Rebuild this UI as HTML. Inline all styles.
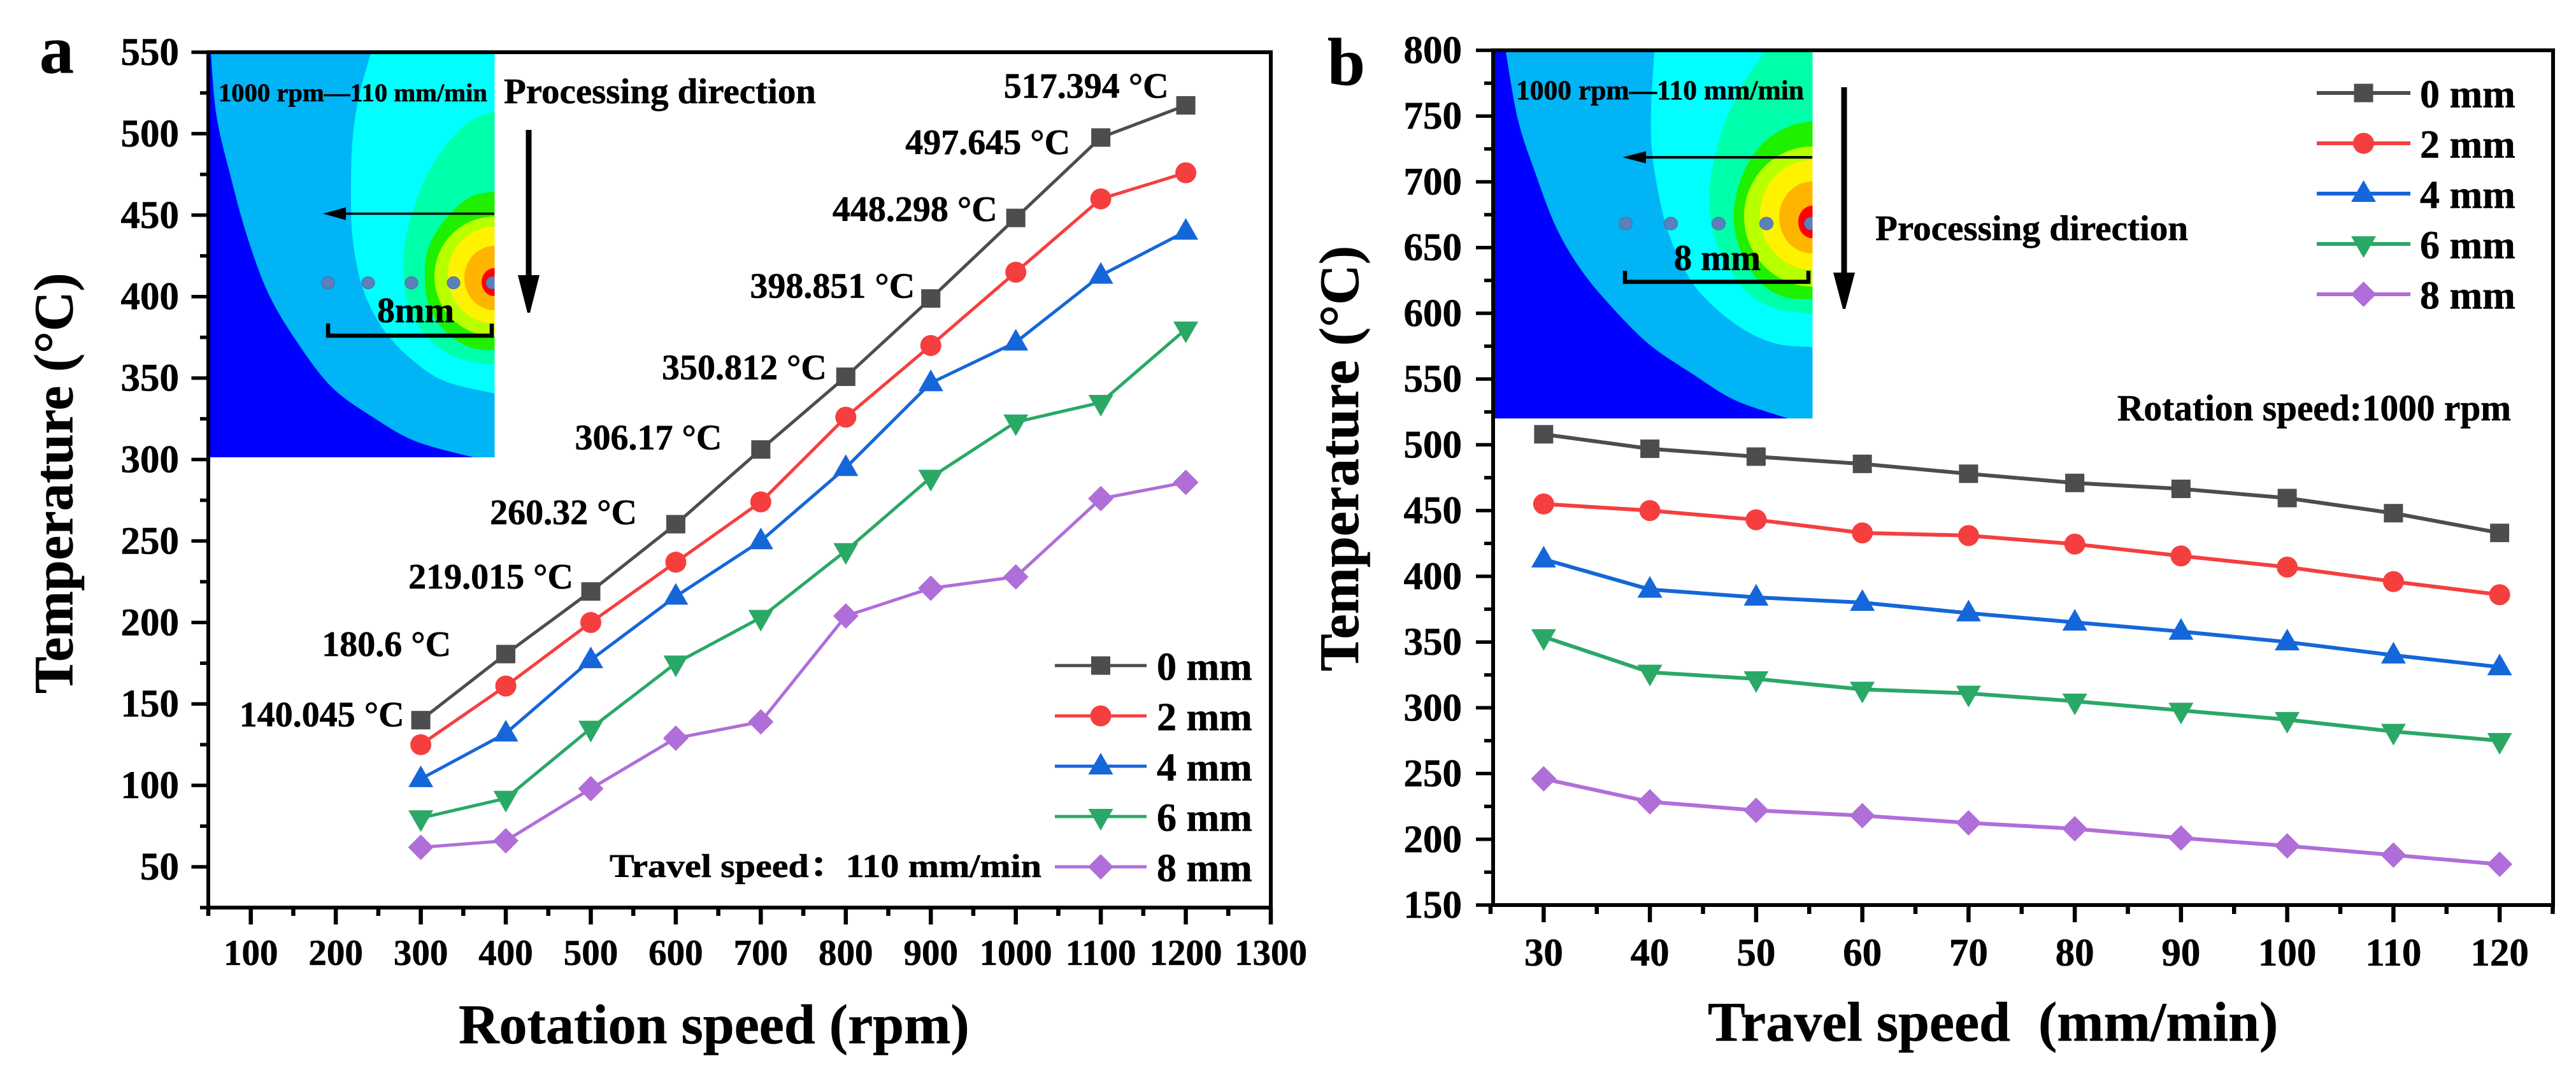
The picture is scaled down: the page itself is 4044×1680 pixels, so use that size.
<!DOCTYPE html>
<html lang="en">
<head>
<meta charset="utf-8">
<title>Temperature vs rotation speed and travel speed</title>
<style>
html,body{margin:0;padding:0;background:#fff}
svg{display:block;font-family:"Liberation Serif","DejaVu Serif",serif;font-weight:bold}
svg text{stroke:#000;stroke-width:0.6px}
</style>
</head>
<body>
<svg id="figure" xmlns="http://www.w3.org/2000/svg" width="4044" height="1680" viewBox="0 0 4044 1680">
  <rect width="4044" height="1680" fill="#fff"/>
  <defs>
    <clipPath id="clipA"><rect x="327" y="84" width="449.500" height="634"/></clipPath>
    <clipPath id="clipB"><rect x="2344" y="82" width="501.500" height="575"/></clipPath>
  </defs>
  <g id="insetA" clip-path="url(#clipA)"></g>
  <g id="insetB" clip-path="url(#clipB)"></g>
  <g id="plotA"></g>
  <g id="plotB"></g>

  <!-- panel a static text -->
  <text x="62" y="114" font-size="108">a</text>
  <text transform="translate(113.500 1089) rotate(-90)" font-size="87">Temperature (°C)</text>
  <text x="720" y="1638" font-size="88">Rotation speed (rpm)</text>
  <text x="343" y="159" font-size="40.500" textLength="422" lengthAdjust="spacingAndGlyphs">1000 rpm—110 mm/min</text>
  <text x="592" y="506" font-size="56" textLength="121" lengthAdjust="spacingAndGlyphs">8mm</text>
  <text x="791" y="162" font-size="56" textLength="490" lengthAdjust="spacingAndGlyphs">Processing direction</text>
  <text x="957" y="1377" font-size="52" textLength="678" lengthAdjust="spacingAndGlyphs" style="font-family:'Liberation Serif','Noto Serif CJK SC',serif">Travel speed：110 mm/min</text>

  <!-- panel a inset annotations -->
  <g fill="none" stroke="#000" stroke-width="6.500">
    <path d="M515 508V527H772V508"/>
  </g>
  <g>
    <path d="M776 335.500H535" stroke="#000" stroke-width="3.500" fill="none"/>
    <path d="M507 335.500L543 325.500V345.500Z" fill="#000"/>
  </g>
  <g>
    <path d="M830 204V440" stroke="#000" stroke-width="9" fill="none"/>
    <path d="M813 432H847L832 491H828Z" fill="#000"/>
  </g>

  <!-- panel b static text -->
  <text x="2084" y="133" font-size="106">b</text>
  <text transform="translate(2132 1054) rotate(-90)" font-size="88">Temperature (°C)</text>
  <text x="2681" y="1634" font-size="88" xml:space="preserve" style="white-space:pre">Travel speed  (mm/min)</text>
  <text x="2380" y="156" font-size="43" textLength="452" lengthAdjust="spacingAndGlyphs">1000 rpm—110 mm/min</text>
  <text x="2628" y="424" font-size="57" textLength="136" lengthAdjust="spacingAndGlyphs">8 mm</text>
  <text x="2944" y="377" font-size="56" textLength="491" lengthAdjust="spacingAndGlyphs">Processing direction</text>
  <text x="3324" y="660" font-size="58" textLength="618" lengthAdjust="spacingAndGlyphs">Rotation speed:1000 rpm</text>

  <g fill="none" stroke="#000" stroke-width="6.500">
    <path d="M2551 425V442.500H2839V425"/>
  </g>
  <g>
    <path d="M2845 247H2570" stroke="#000" stroke-width="4" fill="none"/>
    <path d="M2547 247L2584 237.500V256.500Z" fill="#000"/>
  </g>
  <g>
    <path d="M2895 137V436" stroke="#000" stroke-width="9" fill="none"/>
    <path d="M2878 428H2912L2897 485H2893Z" fill="#000"/>
  </g>
</svg>

<script>
// ---------- Panel a data ----------
const rotationSpeeds = [300, 400, 500, 600, 700, 800, 900, 1000, 1100, 1200];
const rotation0mm = [140.045, 180.6, 219.015, 260.32, 306.17, 350.812, 398.851, 448.298, 497.645, 517.394];
const rotation2mm = [125, 161, 200, 237, 274, 326, 370, 415, 460, 476];
const rotation4mm = [104, 132, 177, 216, 250, 295, 347, 372, 413, 440];
const rotation6mm = [80, 92, 135, 175, 203, 244, 289, 323, 335, 380];
const rotation8mm = [62, 66, 98, 129, 139, 204, 221, 228, 276, 286];
const rotationXTicks = [100, 200, 300, 400, 500, 600, 700, 800, 900, 1000, 1100, 1200, 1300];
const rotationYTicks = [50, 100, 150, 200, 250, 300, 350, 400, 450, 500, 550];
const peakLabels = ['140.045 °C', '180.6 °C', '219.015 °C', '260.32 °C', '306.17 °C', '350.812 °C', '398.851 °C', '448.298 °C', '497.645 °C', '517.394 °C'];

// ---------- Panel b data ----------
const travelSpeeds = [30, 40, 50, 60, 70, 80, 90, 100, 110, 120];
const travel0mm = [508, 497, 491, 485.5, 478, 471, 466.5, 459.5, 448, 433];
const travel2mm = [455, 450, 443, 433, 431, 424.5, 415.5, 407, 396, 386];
const travel4mm = [413, 390, 384, 380, 372, 365, 358, 350, 340, 331];
const travel6mm = [354, 327, 322, 314, 311, 305, 298, 291, 282, 275];
const travel8mm = [246, 228.5, 222, 218, 212.5, 208, 201, 195, 188, 181];
const travelXTicks = [30, 40, 50, 60, 70, 80, 90, 100, 110, 120];
const travelYTicks = [150, 200, 250, 300, 350, 400, 450, 500, 550, 600, 650, 700, 750, 800];

const seriesNames = ['0 mm', '2 mm', '4 mm', '6 mm', '8 mm'];

const NS = 'http://www.w3.org/2000/svg';
const seriesColors = ['#4d4d4d', '#f53f3f', '#1566d9', '#2aa866', '#b06ed8'];
const seriesShapes = ['square', 'circle', 'up', 'down', 'diamond'];

function make(parent, tag, name, attrs) {
  const el = document.createElementNS(NS, tag);
  
  
  for (const k in attrs) el.setAttribute(k, attrs[k]);
  parent.appendChild(el);
  return el;
}

function marker(parent, name, shape, cx, cy, color) {
  if (shape === 'square') {
    make(parent, 'rect', name, {x: cx - 15, y: cy - 14.5, width: 30, height: 29, fill: color});
  } else if (shape === 'circle') {
    make(parent, 'circle', name, {cx: cx, cy: cy, r: 16.5, fill: color});
  } else {
    let d;
    if (shape === 'up') d = `M${cx} ${cy - 21}L${cx + 19.5} ${cy + 13}H${cx - 19.5}Z`;
    if (shape === 'down') d = `M${cx} ${cy + 22}L${cx + 19.5} ${cy - 12}H${cx - 19.5}Z`;
    if (shape === 'diamond') d = `M${cx} ${cy - 20}L${cx + 20} ${cy}L${cx} ${cy + 20}L${cx - 20} ${cy}Z`;
    make(parent, 'path', name, {d: d, fill: color});
  }
}

function drawPanel(cfg) {
  const root = document.getElementById(cfg.id);
  const x = v => cfg.x0 + (v - cfg.xMin) * (cfg.x1 - cfg.x0) / (cfg.xMax - cfg.xMin);
  const y = v => cfg.y0 + (v - cfg.yMin) * (cfg.y1 - cfg.y0) / (cfg.yMax - cfg.yMin);

  // frame
  make(root, 'rect', 'plot-frame-' + cfg.tag, {
    x: cfg.frameL, y: y(cfg.yMax), width: cfg.frameR - cfg.frameL, height: y(cfg.yMin) - y(cfg.yMax),
    fill: 'none', stroke: '#000', 'stroke-width': 6
  });

  // y ticks
  const yStep = cfg.yTicks[1] - cfg.yTicks[0];
  cfg.yTicks.forEach(v => {
    make(root, 'line', 'y-tick-' + cfg.tag + '-' + v, {
      x1: cfg.frameL - cfg.majorLen, x2: cfg.frameL, y1: y(v), y2: y(v), stroke: '#000', 'stroke-width': 5.5
    });
    const t = make(root, 'text', 'y-tick-label-' + cfg.tag + '-' + v, {
      x: cfg.yLabelX, y: y(v) + 20, 'font-size': 61, 'text-anchor': 'end'
    });
    t.textContent = v;
    const m = v + yStep / 2;
    if (m < cfg.yMax) {
      make(root, 'line', 'y-minor-tick-' + cfg.tag + '-' + m, {
        x1: cfg.frameL - cfg.minorLen, x2: cfg.frameL, y1: y(m), y2: y(m), stroke: '#000', 'stroke-width': 5.5
      });
    }
    const below = v - yStep / 2;
    if (below >= cfg.yMin && v === cfg.yTicks[0]) {
      make(root, 'line', 'y-minor-tick-' + cfg.tag + '-' + below, {
        x1: cfg.frameL - cfg.minorLen, x2: cfg.frameL, y1: y(below), y2: y(below), stroke: '#000', 'stroke-width': 5.5
      });
    }
  });

  // x ticks
  const xStep = cfg.xTicks[1] - cfg.xTicks[0];
  const base = y(cfg.yMin);
  cfg.xTicks.forEach(v => {
    make(root, 'line', 'x-tick-' + cfg.tag + '-' + v, {
      x1: x(v), x2: x(v), y1: base, y2: base + cfg.majorLen, stroke: '#000', 'stroke-width': 6.5
    });
    const t = make(root, 'text', 'x-tick-label-' + cfg.tag + '-' + v, {
      x: x(v), y: cfg.xLabelY, 'font-size': cfg.xLabelSize, 'text-anchor': 'middle'
    });
    t.textContent = v;
    const m = v - xStep / 2;
    make(root, 'line', 'x-minor-tick-' + cfg.tag + '-' + m, {
      x1: x(m), x2: x(m), y1: base, y2: base + cfg.minorLen, stroke: '#000', 'stroke-width': 6.5
    });
  });
  const last = cfg.xTicks[cfg.xTicks.length - 1] + xStep / 2;
  if (last <= cfg.xMax) {
    make(root, 'line', 'x-minor-tick-' + cfg.tag + '-' + last, {
      x1: x(last), x2: x(last), y1: base, y2: base + cfg.minorLen, stroke: '#000', 'stroke-width': 6.5
    });
  }

  // series
  cfg.series.forEach((vals, i) => {
    const g = make(root, 'g', 'series-' + cfg.tag + '-' + seriesNames[i].replace(' ', ''), {});
    const pts = vals.map((v, j) => x(cfg.cats[j]) + ',' + y(v)).join(' ');
    make(g, 'polyline', 'series-line', {
      points: pts, fill: 'none', stroke: seriesColors[i], 'stroke-width': cfg.lineW
    });
    vals.forEach((v, j) => {
      marker(g, 'series-point', seriesShapes[i], x(cfg.cats[j]), y(v), seriesColors[i]);
    });
  });

  // legend
  seriesNames.forEach((n, i) => {
    const g = make(root, 'g', 'legend-entry-' + cfg.tag + '-' + n.replace(' ', ''), {});
    const ly = cfg.legendY + i * cfg.legendStep;
    make(g, 'line', 'legend-line', {
      x1: cfg.legendX0, x2: cfg.legendX1, y1: ly, y2: ly, stroke: seriesColors[i], 'stroke-width': cfg.lineW
    });
    marker(g, 'legend-marker', seriesShapes[i], (cfg.legendX0 + cfg.legendX1) / 2, ly, seriesColors[i]);
    const t = make(g, 'text', 'legend-label', {x: cfg.legendTextX, y: ly + 22.5, 'font-size': 62});
    t.textContent = n;
  });
}

drawPanel({
  id: 'plotA', tag: 'a', cats: rotationSpeeds,
  series: [rotation0mm, rotation2mm, rotation4mm, rotation6mm, rotation8mm],
  xTicks: rotationXTicks, yTicks: rotationYTicks,
  xMin: 50, xMax: 1300, x0: 327, x1: 1995,
  yMin: 25, yMax: 550, y0: 1425, y1: 82,
  frameL: 327, frameR: 1995, majorLen: 26.5, minorLen: 13,
  yLabelX: 281, xLabelY: 1515, xLabelSize: 57, lineW: 5,
  legendY: 1045, legendStep: 79, legendX0: 1656, legendX1: 1800, legendTextX: 1816
});

drawPanel({
  id: 'plotB', tag: 'b', cats: travelSpeeds,
  series: [travel0mm, travel2mm, travel4mm, travel6mm, travel8mm],
  xTicks: travelXTicks, yTicks: travelYTicks,
  xMin: 25, xMax: 125, x0: 2340, x1: 4007.5,
  yMin: 150, yMax: 800, y0: 1421, y1: 79,
  frameL: 2344, frameR: 4008, majorLen: 27, minorLen: 14,
  yLabelX: 2295, xLabelY: 1516, xLabelSize: 61, lineW: 6,
  legendY: 146, legendStep: 79, legendX0: 3637, legendX1: 3784, legendTextX: 3799
});

// peak-value annotations on the 0 mm series of panel a
(function () {
  const root = document.getElementById('plotA');
  const x = v => 327 + (v - 50) * 1668 / 1250;
  const y = v => 1425 - (v - 25) * 1343 / 525;
  const dx = [-26, -86, -27.5, -61, -61, -30, -25, -29, -48, -27];
  const dy = [10, 3, -4.5, 0, 0, 4, -1, 5, 26, -12];
  peakLabels.forEach((s, i) => {
    const t = make(root, 'text', 'peak-label-' + rotationSpeeds[i], {
      x: x(rotationSpeeds[i]) + dx[i], y: y(rotation0mm[i]) + dy[i], 'font-size': 56, 'text-anchor': 'end'
    });
    t.textContent = s;
  });
})();

// ---------- Contour insets (illustration, not data) ----------
function smooth(pts) {
  let d = 'M' + pts[0][0] + ' ' + pts[0][1];
  for (let i = 0; i < pts.length - 1; i++) {
    const p0 = pts[Math.max(i - 1, 0)], p1 = pts[i], p2 = pts[i + 1], p3 = pts[Math.min(i + 2, pts.length - 1)];
    d += 'C' + (p1[0] + (p2[0] - p0[0]) / 6) + ' ' + (p1[1] + (p2[1] - p0[1]) / 6) + ' ' +
         (p2[0] - (p3[0] - p1[0]) / 6) + ' ' + (p2[1] - (p3[1] - p1[1]) / 6) + ' ' + p2[0] + ' ' + p2[1];
  }
  return d;
}

function drawInset(cfg) {
  const g = document.getElementById(cfg.id);
  make(g, 'rect', 'contour-base', {x: cfg.l, y: cfg.t, width: cfg.r - cfg.l, height: cfg.b - cfg.t, fill: '#0000ff'});
  cfg.bands.forEach(band => {
    const last = band.pts[band.pts.length - 1];
    const first = band.pts[0];
    let d = smooth(band.pts);
    d += 'L' + cfg.r + ' ' + last[1];
    d += 'L' + cfg.r + ' ' + first[1];
    d += 'Z';
    make(g, 'path', band.name, {d: d, fill: band.fill});
  });
  cfg.rings.forEach(ring => {
    make(g, 'ellipse', ring.name, {cx: ring.cx, cy: ring.cy, rx: ring.rx, ry: ring.ry, fill: ring.fill});
  });
  cfg.dots.forEach(dx => {
    make(g, 'ellipse', 'measurement-point', {cx: dx, cy: cfg.dotY, rx: cfg.dotR, ry: cfg.dotR - 0.5, fill: '#5a80bd', stroke: '#4a6a9c', 'stroke-width': 1});
  });
}

drawInset({
  id: 'insetA', l: 327, r: 776.5, t: 84, b: 718, dotY: 444, dotR: 10,
  dots: [515, 578, 646, 712, 773],
  bands: [
    {name: 'contour-light-blue', fill: '#00b4f6', pts: [[331, 84], [340, 183], [362, 277], [387, 368], [420, 458], [463, 532], [520, 607], [587, 656], [653, 693], [743, 718]]},
    {name: 'contour-cyan', fill: '#00ffff', pts: [[582, 84], [563, 154], [553, 224], [551, 306], [553, 368], [563, 430], [580, 479], [607, 524], [647, 565], [697, 598], [776.5, 618]]},
    {name: 'contour-teal', fill: '#00ffaa', pts: [[776.5, 175], [737, 191], [697, 232], [663, 290], [640, 360], [633, 409], [637, 463], [657, 512], [693, 549], [737, 567], [776.5, 572]]},
    {name: 'contour-green', fill: '#1ef000', pts: [[776.5, 301], [737, 310], [697, 347], [673, 388.5], [667, 430], [673, 479], [697, 518], [737, 545], [776.5, 550]]}
  ],
  rings: [
    {name: 'contour-yellow-green', fill: '#b8ff00', cx: 776, cy: 434, rx: 94, ry: 94},
    {name: 'contour-yellow', fill: '#fff200', cx: 776, cy: 432, rx: 73, ry: 76},
    {name: 'contour-orange', fill: '#ffb400', cx: 776, cy: 436.5, rx: 47, ry: 50.5},
    {name: 'contour-red', fill: '#ff0000', cx: 776, cy: 443, rx: 20, ry: 22}
  ]
});

drawInset({
  id: 'insetB', l: 2344, r: 2845.5, t: 82, b: 657, dotY: 351, dotR: 10.5,
  dots: [2552, 2623, 2698, 2773, 2843],
  bands: [
    {name: 'contour-light-blue', fill: '#00b4f6', pts: [[2364, 82], [2383, 188], [2410, 271], [2443, 357], [2483, 425], [2533, 485], [2590, 541.5], [2657, 587], [2723, 628], [2807, 657]]},
    {name: 'contour-cyan', fill: '#00ffff', pts: [[2597, 82], [2592, 169], [2593, 233], [2603, 301], [2620, 368], [2653, 438], [2690, 481], [2740, 519], [2790, 540], [2845.5, 545]]},
    {name: 'contour-teal', fill: '#00ffaa', pts: [[2770, 82], [2737, 131], [2707, 195], [2690, 256], [2684, 301], [2688, 361], [2710, 414], [2747, 462.5], [2790, 485], [2845.5, 493]]},
    {name: 'contour-green', fill: '#1ef000', pts: [[2845.5, 190], [2807, 199], [2767, 225.5], [2737, 271], [2722, 331], [2730, 387], [2760, 440], [2800, 466], [2845.5, 470]]}
  ],
  rings: [
    {name: 'contour-yellow-green', fill: '#b8ff00', cx: 2845, cy: 340, rx: 107, ry: 110},
    {name: 'contour-yellow', fill: '#fff200', cx: 2845, cy: 337.5, rx: 82, ry: 86},
    {name: 'contour-orange', fill: '#ffb400', cx: 2845, cy: 341.5, rx: 52, ry: 56.5},
    {name: 'contour-red', fill: '#ff0000', cx: 2845, cy: 348.5, rx: 22, ry: 25.5}
  ]
});
</script>
</body>
</html>
